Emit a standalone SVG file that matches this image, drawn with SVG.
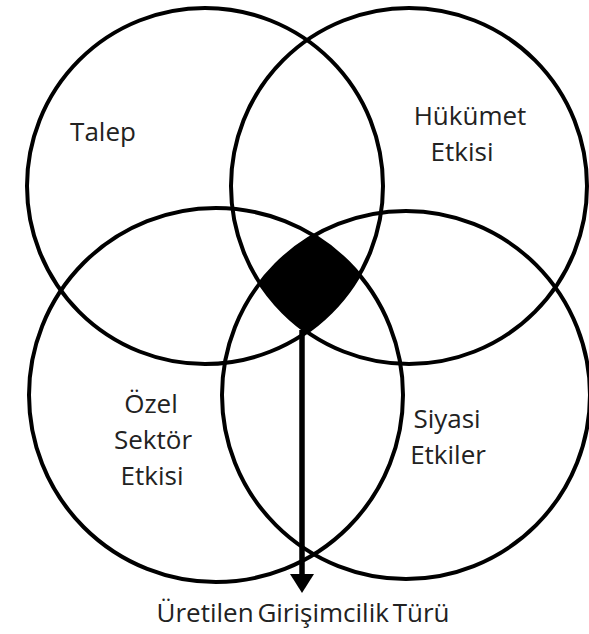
<svg xmlns="http://www.w3.org/2000/svg" width="589" height="634" viewBox="0 0 589 634">
<style>
.c{fill:none;stroke:#000;stroke-width:4}
.t{font-family:"Open Sans","Noto Sans",sans-serif;font-size:26px;fill:#222;text-anchor:middle}
.b{font-family:"Open Sans","Noto Sans",sans-serif;font-size:26px;fill:#222;text-anchor:middle;word-spacing:-3px}
</style>
<defs>
<clipPath id="k1"><circle cx="205" cy="186" r="178"/></clipPath>
<clipPath id="k2"><circle cx="409" cy="186" r="178"/></clipPath>
<clipPath id="k3"><circle cx="216" cy="395" r="187"/></clipPath>
</defs>
<rect width="589" height="634" fill="#fff"/>
<g id="core"><g clip-path="url(#k1)"><g clip-path="url(#k2)"><g clip-path="url(#k3)"><circle cx="406" cy="395" r="184" fill="#000"/></g></g></g></g>
<g id="talep"><circle class="c" cx="205" cy="186" r="178"/><text class="t" x="103" y="141">Talep</text></g>
<g id="hukumet"><circle class="c" cx="409" cy="186" r="178"/><text class="t" x="470" y="125">Hükümet</text><text class="t" x="462" y="161">Etkisi</text></g>
<g id="ozel"><circle class="c" cx="216" cy="395" r="187"/><text class="t" x="151" y="413">Özel</text><text class="t" x="153" y="449">Sektör</text><text class="t" x="152" y="485">Etkisi</text></g>
<g id="siyasi"><circle class="c" cx="406" cy="395" r="184"/><text class="t" x="447" y="428">Siyasi</text><text class="t" x="448" y="464">Etkiler</text></g>
<g id="connectors"><line x1="302" y1="330" x2="302" y2="578" stroke="#000" stroke-width="5.5"/><polygon points="290,574 314,574 302,593" fill="#000"/></g>
<g id="output"><text class="b" x="303" y="622">Üretilen Girişimcilik Türü</text></g>
</svg>
